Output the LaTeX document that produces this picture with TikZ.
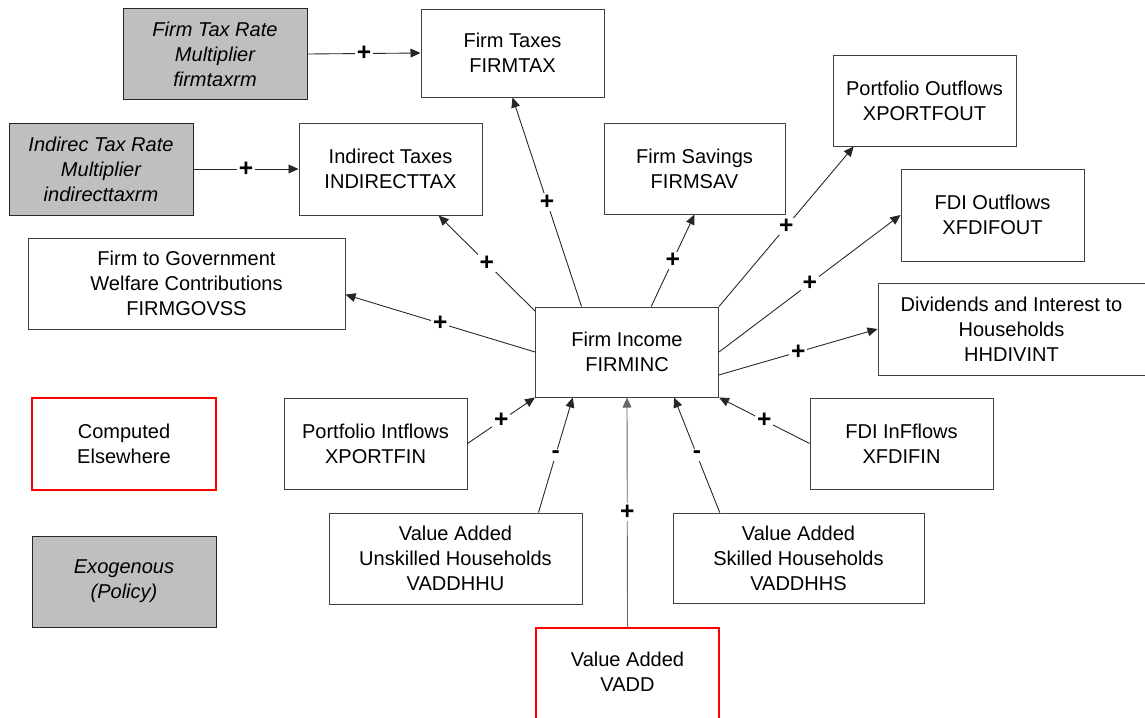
\documentclass[tikz,border=0pt]{standalone}
\usepackage{fontspec}
\setmainfont{Liberation Sans}
\usetikzlibrary{arrows.meta}
\begin{document}
\begin{tikzpicture}[x=0.02cm,y=-0.02cm,
  txt/.style={font=\fontsize{11.4}{14.2}\selectfont},
  box/.style={txt, draw=black!75, line width=0.55pt, fill=white, align=center, inner sep=0pt},
  sz/.style 2 args={minimum width=#1*0.02cm, minimum height=#2*0.02cm},
  policy/.style={box, fill=black!25, draw=black!85, font=\fontsize{11.4}{14.2}\selectfont\itshape},
  computed/.style={box, draw=red, line width=0.9pt},
  link/.style={draw=black!85, line width=0.5pt, -{Triangle[length=5.7pt,width=5pt]}},
  sign/.style={fill=white, inner sep=1pt, font=\fontsize{14}{14}\selectfont\bfseries},
]
\clip (0,0) rectangle (1145,717);
\fill[white] (0,0) rectangle (1145,717);

% central variable
\node[box, sz={183}{90}] (finc) at (627,352) {Firm Income\\FIRMINC};

% policy inputs
\node[policy, sz={184}{91}] (ftr) at (215,54) {Firm Tax Rate\\Multiplier\\firmtaxrm};
\node[policy, sz={184}{92}] (itr) at (101,169) {Indirec Tax Rate\\Multiplier\\indirecttaxrm};

% outputs of firm income
\node[box, sz={183}{88}] (ftax) at (512.5,53) {Firm Taxes\\FIRMTAX};
\node[box, sz={183}{92}] (itax) at (390.5,169) {Indirect Taxes\\INDIRECTTAX};
\node[box, sz={181}{91}] (fsav) at (694.5,168.5) {Firm Savings\\FIRMSAV};
\node[box, sz={317}{91}] (fgov) at (186.5,283.5) {Firm to Government\\Welfare Contributions\\FIRMGOVSS};
\node[box, sz={183}{91}] (pout) at (924.5,100.5) {Portfolio Outflows\\XPORTFOUT};
\node[box, sz={183}{92}] (fdiout) at (992.5,215) {FDI Outflows\\XFDIFOUT};
\node[box, sz={267}{92}] (hhdiv) at (1011.5,329) {Dividends and Interest to\\Households\\HHDIVINT};

% inputs to firm income
\node[box, sz={183}{91}] (pin) at (375.5,443.5) {Portfolio Intflows\\XPORTFIN};
\node[box, sz={183}{91}] (fdiin) at (901.5,443.5) {FDI InFflows\\XFDIFIN};
\node[box, sz={253}{91}] (vu) at (455.5,558.5) {Value Added\\Unskilled Households\\VADDHHU};
\node[box, sz={251}{90}] (vs) at (798.5,558) {Value Added\\Skilled Households\\VADDHHS};
\node[computed, sz={183}{100}, anchor=north] (vadd) at (627.5,627) {};
\node[txt, align=center] (vaddtxt) at (627.5,672) {Value Added\\VADD};

% legend
\node[computed, sz={184}{92}] (comp) at (124,444) {Computed\\Elsewhere};
\node[policy, sz={184}{91}] (exo) at (124,581.5) {Exogenous\\(Policy)};

% links
\draw[link] (ftr.east) -- node[sign] {+} (ftax.west);
\draw[link] (itr.east) -- node[sign] {+} (itax.west);
\draw[link] (finc.135) -- node[sign] {+} (ftax.south);
\draw[link] (finc.156.8) -- node[sign] {+} (itax.-44.7);
\draw[link] (finc.west) -- node[sign] {+} (fgov.-4.9);
\draw[link] (finc.62.9) -- node[sign] {+} (fsav.south);
\draw[link] (finc.north east) -- node[sign] {+} (pout.213.2);
\draw[link] (finc.east) -- node[sign] {+} (fdiout.west);
\draw[link] (finc.-14.2) -- node[sign] {+} (hhdiv.west);
\draw[link] (pin.east) -- node[sign] {+} (finc.south west);
\draw[link] (fdiin.west) -- node[sign] {+} (finc.south east);
\draw[link] (vu.29.5) -- node[sign] {-} (finc.-140.2);
\draw[link] (vs.150.8) -- node[sign] {-} (finc.-44.4);
\draw[link, draw=black!60] (vadd.north) -- node[sign] {+} (finc.south);
\end{tikzpicture}
\end{document}
